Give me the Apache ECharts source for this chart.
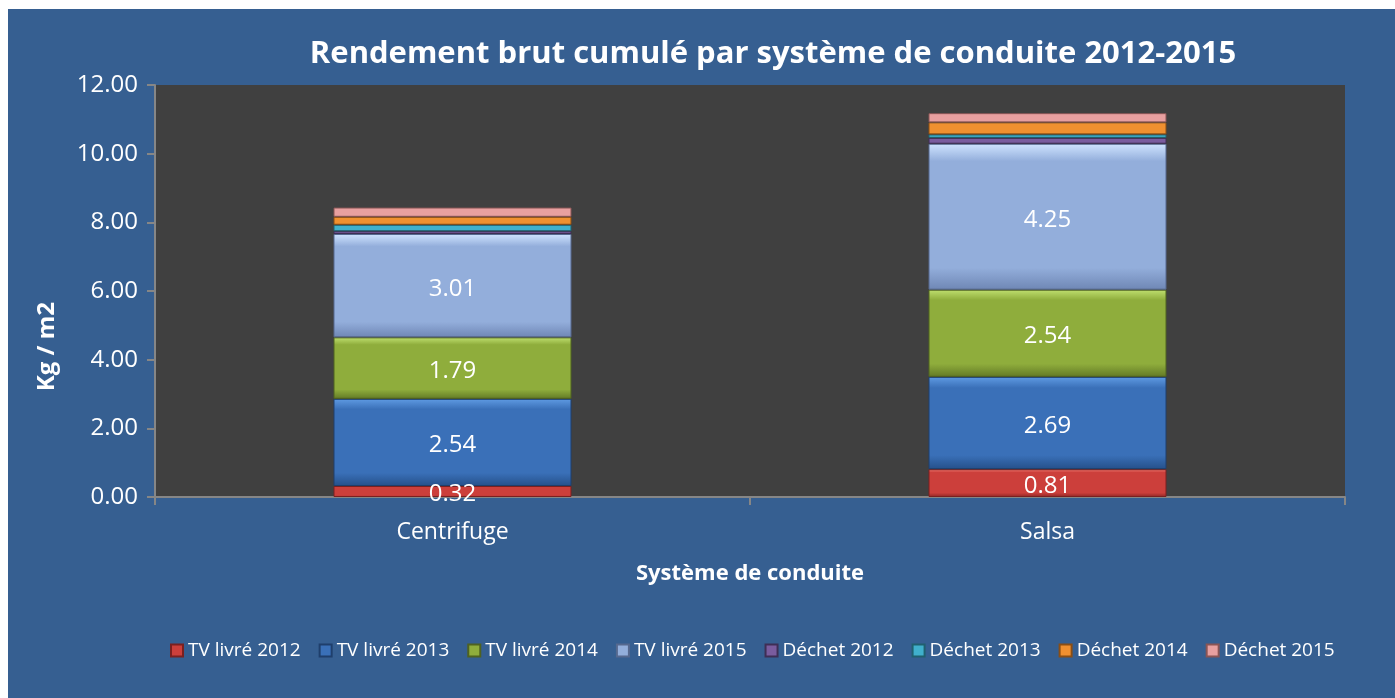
<!DOCTYPE html>
<html>
<head>
<meta charset="utf-8">
<script src="https://cdn.jsdelivr.net/npm/echarts@6/dist/echarts.min.js"></script>
<style>
html,body{margin:0;padding:0;background:#ffffff;width:1395px;height:698px;overflow:hidden;}
#chart{position:absolute;left:8px;top:9px;width:1387px;height:689px;}
</style>
</head>
<body>
<div id="chart"></div>
<script>
const categories = ['Centrifuge', 'Salsa'];
const tvLivre2012 = [0.32, 0.81];
const tvLivre2013 = [2.54, 2.69];
const tvLivre2014 = [1.79, 2.54];
const tvLivre2015 = [3.01, 4.25];
const dechet2012 = [0.08, 0.17];
const dechet2013 = [0.19, 0.10];
const dechet2014 = [0.23, 0.35];
const dechet2015 = [0.27, 0.27];
const yTicks = { min: 0, max: 12, interval: 2 };

const FONT = 'Open Sans';

function grad(top, mid, bottom) {
  return new echarts.graphic.LinearGradient(0, 0, 0, 1, [
    { offset: 0, color: top },
    { offset: 0.12, color: mid },
    { offset: 0.85, color: mid },
    { offset: 1, color: bottom }
  ]);
}

const seriesDefs = [
  { name: 'TV livré 2012', data: tvLivre2012, c: grad('#f27a72', '#cc3f3b', '#8e2624'), border: '#7a2020', label: true },
  { name: 'TV livré 2013', data: tvLivre2013, c: grad('#5f9be3', '#3a70b8', '#25508a'), border: '#1f3f6c', label: true },
  { name: 'TV livré 2014', data: tvLivre2014, c: grad('#c0e070', '#8fad3c', '#637a26'), border: '#4f6220', label: true },
  { name: 'TV livré 2015', data: tvLivre2015, c: grad('#d0e4ff', '#93aedb', '#6f87b5'), border: '#56698f', label: true },
  { name: 'Déchet 2012', data: dechet2012, c: grad('#a58bc8', '#7a5c9e', '#4f3a6a'), border: '#3e2e55', label: false },
  { name: 'Déchet 2013', data: dechet2013, c: grad('#7fe0f5', '#40b0cc', '#2a7d92'), border: '#20606f', label: false },
  { name: 'Déchet 2014', data: dechet2014, c: grad('#ffc070', '#f09030', '#b0651c'), border: '#8a4e15', label: false },
  { name: 'Déchet 2015', data: dechet2015, c: grad('#ffd0d0', '#e8a0a0', '#a86a6a'), border: '#8a5555', label: false }
];

const chart = echarts.init(document.getElementById('chart'), null, { renderer: 'canvas' });

const option = {
  backgroundColor: '#365f91',
  animation: false,
  textStyle: { fontFamily: FONT },
  title: {
    text: 'Rendement brut cumulé par système de conduite 2012-2015',
    left: 760,
    textAlign: 'center',
    top: 25,
    textStyle: { color: '#ffffff', fontFamily: FONT, fontWeight: 'bold', fontSize: 31 }
  },
  grid: {
    left: 147, right: 50, top: 76, bottom: 201,
    show: true, backgroundColor: '#404040', borderWidth: 0
  },
  legend: {
    bottom: 33,
    left: 157,
    itemWidth: 12,
    itemHeight: 12,
    itemGap: 18,
    itemTextGap: 4,
    icon: 'rect',
    textStyle: { color: '#ffffff', fontFamily: FONT, fontSize: 19 },
    data: seriesDefs.map(s => s.name)
  },
  xAxis: {
    type: 'category',
    data: categories,
    name: 'Système de conduite',
    nameLocation: 'middle',
    nameGap: 66,
    nameTextStyle: { color: '#ffffff', fontFamily: FONT, fontWeight: 'bold', fontSize: 22 },
    axisLine: { lineStyle: { color: '#868686', width: 2 } },
    axisTick: { show: true, alignWithLabel: false, length: 8, lineStyle: { color: '#868686', width: 2 } },
    axisLabel: { color: '#ffffff', fontSize: 23, margin: 24, fontFamily: FONT }
  },
  yAxis: {
    type: 'value',
    min: yTicks.min, max: yTicks.max, interval: yTicks.interval,
    axisLine: { show: true, lineStyle: { color: '#868686', width: 2 } },
    axisTick: { show: true, length: 8, lineStyle: { color: '#868686', width: 2 } },
    splitLine: { show: false },
    axisLabel: { color: '#ffffff', fontSize: 24, margin: 17, fontFamily: FONT, formatter: v => v.toFixed(2) }
  },
  graphic: [{
    type: 'text',
    left: 27,
    top: 293,
    rotation: Math.PI / 2,
    style: { text: 'Kg / m2', fill: '#ffffff', font: 'bold 24px "' + FONT + '"' }
  }],
  series: seriesDefs.map(s => ({
    name: s.name,
    type: 'bar',
    stack: 'total',
    barWidth: '40%',
    data: s.data,
    itemStyle: { color: s.c, borderColor: s.border, borderWidth: 1 },
    label: {
      show: s.label,
      position: 'inside',
      offset: [0, 3],
      color: '#ffffff',
      fontSize: 24,
      fontFamily: FONT,
      formatter: p => p.value.toFixed(2)
    }
  }))
};

chart.setOption(option);
</script>
</body>
</html>
